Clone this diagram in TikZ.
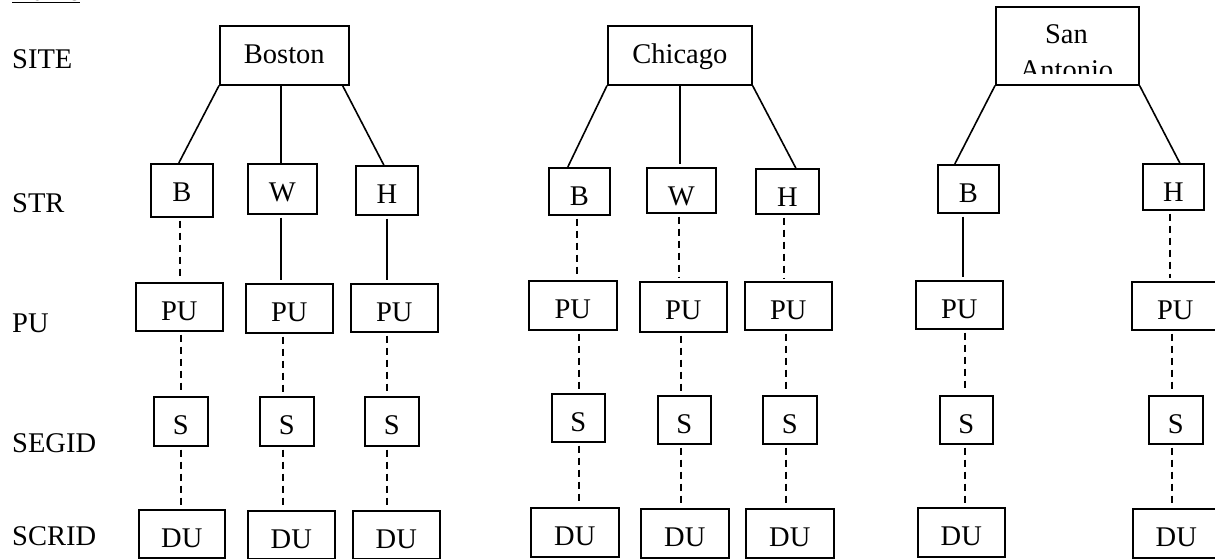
\documentclass[tikz,border=0pt]{standalone}
\usepackage{fontspec}
\setmainfont{Liberation Serif}
\tikzset{
  bx/.style={draw, line width=1.6pt, inner xsep=0pt, inner ysep=0pt, text height=38pt,
    font=\fontsize{28.5}{34}\selectfont},
  lbl/.style={inner sep=0pt, anchor=base west, font=\fontsize{28.5}{34}\selectfont},
  ln/.style={line width=1.6pt},
  dsh/.style={line width=1.6pt, dash pattern=on 7pt off 5pt, shorten <=3pt, shorten >=3pt},
  sld/.style={line width=1.6pt, shorten <=3pt, shorten >=3pt}
}
\newcommand\mybox[6]{\node[bx, anchor=north west, minimum width={#4-#2}, text depth={#5-#3-38}] (#1) at (#2,#3) {#6};}
\begin{document}
\begin{tikzpicture}[x=1pt,y=-1pt]
\useasboundingbox (0,0) rectangle (1215,558);
\clip (0,0) rectangle (1215,558);
% row labels
\node[lbl] (name) at (12,0.5) {\underline{Name}};
\node[lbl] (lsite) at (12,68) {SITE};
\node[lbl] (lstr) at (12,212) {STR};
\node[lbl] (lpu) at (12,332) {PU};
\node[lbl] (lseg) at (12,452) {SEGID};
\node[lbl] (lscr) at (12,545) {SCRID};
% sites
\mybox{boston}{219}{25}{348}{84}{Boston}
\mybox{chicago}{607}{25}{751}{84}{Chicago}
\node[draw, line width=1.6pt, inner sep=0pt, anchor=north west, minimum width=143pt, minimum height=78pt] (sa) at (995,6) {};
\begin{scope}
\clip (995,6) rectangle (1138,73);
\node[inner sep=0pt, anchor=base, align=center, font=\fontsize{28.5}{36}\selectfont] (satxt) at (1066.5,79) {San\\Antonio};
\end{scope}
% STR
\mybox{bB}{150}{163}{212}{216}{B}
\mybox{bW}{247}{163}{316}{213}{W}
\mybox{bH}{355}{165}{417}{214}{H}
\mybox{cB}{548}{167}{609}{214}{B}
\mybox{cW}{646}{167}{715}{212}{W}
\mybox{cH}{755}{168}{818}{213}{H}
\mybox{sB}{937}{164}{998}{212}{B}
\mybox{sH}{1142}{163}{1203}{209}{H}
% PU
\mybox{bP1}{135}{282}{222}{330}{PU}
\mybox{bP2}{245}{283}{332}{332}{PU}
\mybox{bP3}{350}{283}{437}{331}{PU}
\mybox{cP1}{528}{280}{616}{329}{PU}
\mybox{cP2}{639}{281}{726}{331}{PU}
\mybox{cP3}{744}{281}{831}{329}{PU}
\mybox{sP1}{915}{280}{1002}{328}{PU}
\mybox{sP2}{1131}{281}{1218}{329}{PU}
% S
\mybox{bS1}{153}{396}{207}{445}{S}
\mybox{bS2}{259}{396}{313}{445}{S}
\mybox{bS3}{364}{396}{418}{445}{S}
\mybox{cS1}{551}{393}{604}{441}{S}
\mybox{cS2}{657}{395}{710}{443}{S}
\mybox{cS3}{762}{395}{816}{443}{S}
\mybox{sS1}{939}{395}{992}{443}{S}
\mybox{sS2}{1148}{395}{1202}{443}{S}
% DU
\mybox{bD1}{138}{509}{224}{557}{DU}
\mybox{bD2}{247}{510}{334}{558}{DU}
\mybox{bD3}{352}{510}{439}{558}{DU}
\mybox{cD1}{530}{507}{618}{556}{DU}
\mybox{cD2}{640}{508}{728}{557}{DU}
\mybox{cD3}{745}{508}{833}{557}{DU}
\mybox{sD1}{917}{507}{1004}{556}{DU}
\mybox{sD2}{1132}{508}{1219}{557}{DU}
% site to STR
\draw[ln] (boston.south west) -- ([xshift=-3pt]bB.north);
\draw[ln] ([xshift=-1.5pt]bW.north |- boston.south) -- ([xshift=-1.5pt]bW.north);
\draw[ln] ([xshift=-7pt]boston.south east) -- ([xshift=-3pt]bH.north);
\draw[ln] (chicago.south west) -- ([xshift=-11.5pt]cB.north);
\draw[ln] ([xshift=-1.5pt]cW.north |- chicago.south) -- ([xshift=-1.5pt,yshift=3pt]cW.north);
\draw[ln] (chicago.south east) -- ([xshift=8.5pt]cH.north);
\draw[ln] (sa.south west) -- ([xshift=-13.5pt]sB.north);
\draw[ln] (sa.south east) -- ([xshift=6.5pt]sH.north);
% STR to PU
\draw[dsh] ([xshift=-2pt]bB.south) -- ([xshift=-2pt]bB.south |- bP1.north);
\draw[sld] ([xshift=-1.5pt]bW.south) -- ([xshift=-1.5pt]bW.south |- bP2.north);
\draw[sld] (bH.south) -- (bH.south |- bP3.north);
\draw[dsh] ([xshift=-2.5pt]cB.south) -- ([xshift=-2.5pt]cB.south |- cP1.north);
\draw[dsh] ([xshift=-2.5pt]cW.south) -- ([xshift=-2.5pt]cW.south |- cP2.north);
\draw[dsh] ([xshift=-3.5pt]cH.south) -- ([xshift=-3.5pt]cH.south |- cP3.north);
\draw[sld] ([xshift=-5.5pt]sB.south) -- ([xshift=-5.5pt]sB.south |- sP1.north);
\draw[dsh] ([xshift=-3.5pt]sH.south) -- ([xshift=-3.5pt]sH.south |- sP2.north);
% PU to S
\draw[dsh] ([xshift=1.5pt]bP1.south) -- ([xshift=1.5pt]bP1.south |- bS1.north);
\draw[dsh] ([xshift=-6.5pt]bP2.south) -- ([xshift=-6.5pt]bP2.south |- bS2.north);
\draw[dsh] ([xshift=-7.5pt]bP3.south) -- ([xshift=-7.5pt]bP3.south |- bS3.north);
\draw[dsh] ([xshift=6pt]cP1.south) -- ([xshift=6pt]cP1.south |- cS1.north);
\draw[dsh] ([xshift=-2.5pt]cP2.south) -- ([xshift=-2.5pt]cP2.south |- cS2.north);
\draw[dsh] ([xshift=-2.5pt]cP3.south) -- ([xshift=-2.5pt]cP3.south |- cS3.north);
\draw[dsh] ([xshift=5.5pt]sP1.south) -- ([xshift=5.5pt]sP1.south |- sS1.north);
\draw[dsh] ([xshift=-3.5pt]sP2.south) -- ([xshift=-3.5pt]sP2.south |- sS2.north);
% S to DU
\draw[dsh] (bS1.south) -- (bS1.south |- bD1.north);
\draw[dsh] ([xshift=-4pt]bS2.south) -- ([xshift=-4pt]bS2.south |- bD2.north);
\draw[dsh] ([xshift=-5pt]bS3.south) -- ([xshift=-5pt]bS3.south |- bD3.north);
\draw[dsh] ([xshift=0.5pt]cS1.south) -- ([xshift=0.5pt]cS1.south |- cD1.north);
\draw[dsh] ([xshift=-3.5pt]cS2.south) -- ([xshift=-3.5pt]cS2.south |- cD2.north);
\draw[dsh] ([xshift=-4pt]cS3.south) -- ([xshift=-4pt]cS3.south |- cD3.north);
\draw[dsh] ([xshift=-1.5pt]sS1.south) -- ([xshift=-1.5pt]sS1.south |- sD1.north);
\draw[dsh] ([xshift=-4pt]sS2.south) -- ([xshift=-4pt]sS2.south |- sD2.north);
\end{tikzpicture}
\end{document}
